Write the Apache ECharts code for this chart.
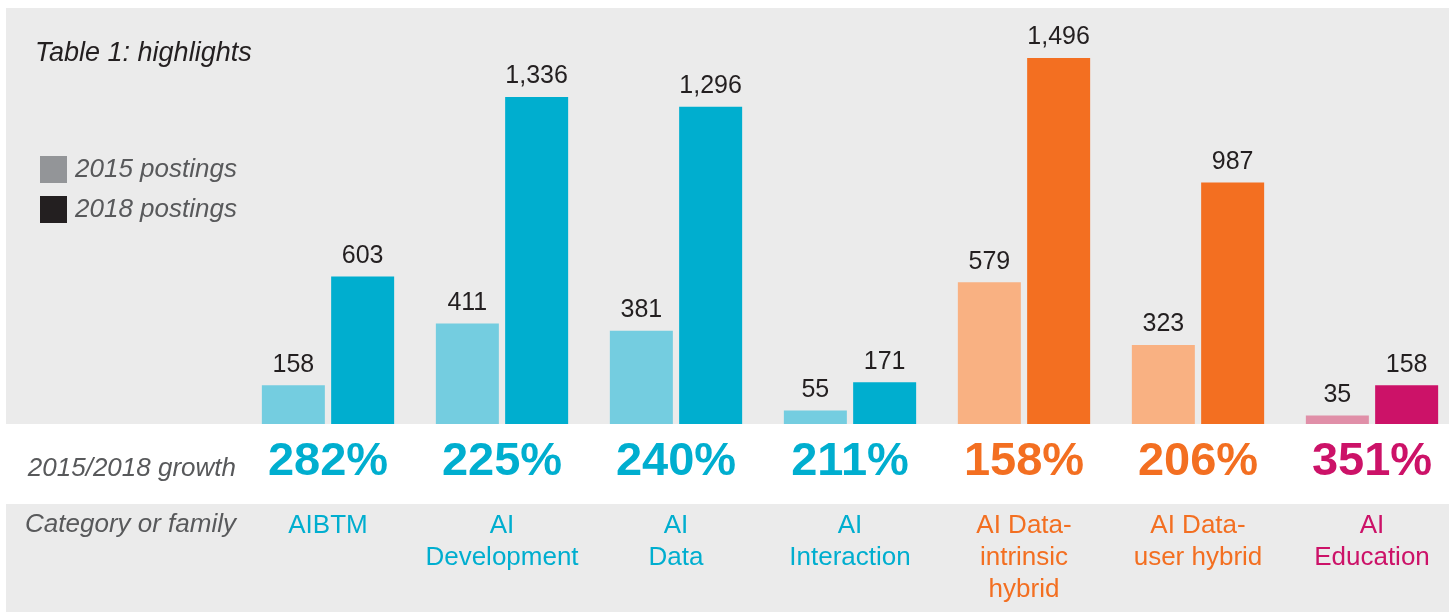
<!DOCTYPE html>
<html>
<head>
<meta charset="utf-8">
<title>Table 1: highlights</title>
<script src="https://cdn.jsdelivr.net/npm/echarts@6/dist/echarts.min.js"></script>
<style>
  html, body { margin: 0; padding: 0; background: #fff; overflow: hidden; }
  /* a little wider than the window: the last group runs past the right edge */
  #chart { width: 1460px; height: 612px; }
</style>
</head>
<body>
<div id="chart"></div>
<script>
const categories = ['AIBTM', 'AI\nDevelopment', 'AI\nData', 'AI\nInteraction', 'AI Data-\nintrinsic\nhybrid', 'AI Data-\nuser hybrid', 'AI\nEducation']
const postings2015 = [158, 411, 381, 55, 579, 323, 35]
const postings2018 = [603, 1336, 1296, 171, 1496, 987, 158]
const growthLabels = ['282%', '225%', '240%', '211%', '158%', '206%', '351%']

// colours per category: light shade for 2015, full shade for 2018
const lightColors = ['#74cde0', '#74cde0', '#74cde0', '#74cde0', '#f9b182', '#f9b182', '#e08fa8']
const darkColors = ['#00aecf', '#00aecf', '#00aecf', '#00aecf', '#f36f21', '#f36f21', '#cc1268']

const FONT = '"Liberation Sans", Arial, sans-serif'
const PANEL = '#ebebeb'

const chart = echarts.init(document.getElementById('chart'))

const valueLabel = {
  show: true,
  position: 'top',
  distance: 8,
  fontFamily: FONT,
  fontSize: 25,
  color: '#231f20',
  formatter: (p) => p.value.toLocaleString('en-US')
}

const option = {
  backgroundColor: '#fff',
  animation: false,
  textStyle: { fontFamily: FONT },
  title: {
    text: 'Table 1: highlights',
    left: 35,
    top: 40,
    padding: 0,
    textStyle: {
      fontFamily: FONT,
      fontSize: 27,
      fontStyle: 'italic',
      fontWeight: 'normal',
      color: '#231f20'
    }
  },
  legend: {
    orient: 'vertical',
    left: 40,
    top: 156,
    padding: 0,
    itemWidth: 27,
    itemHeight: 27,
    itemGap: 13,
    icon: 'rect',
    selectedMode: false,
    textStyle: {
      fontFamily: FONT,
      fontSize: 26,
      fontStyle: 'italic',
      color: '#58595b',
      padding: [2, 0, 0, 3]
    },
    data: [
      { name: '2015 postings', itemStyle: { color: '#939598' } },
      { name: '2018 postings', itemStyle: { color: '#231f20' } }
    ]
  },
  graphic: [
    { type: 'rect', z: -10, silent: true, shape: { x: 6, y: 8, width: 1460, height: 416 }, style: { fill: PANEL } },
    { type: 'rect', z: -10, silent: true, shape: { x: 6, y: 504, width: 1460, height: 108 }, style: { fill: PANEL } },
    {
      type: 'text', x: 236, y: 456,
      style: { text: '2015/2018 growth', font: 'italic 26px ' + FONT, fill: '#58595b', align: 'right', verticalAlign: 'top' }
    },
    {
      type: 'text', x: 236, y: 512,
      style: { text: 'Category or family', font: 'italic 26px ' + FONT, fill: '#58595b', align: 'right', verticalAlign: 'top' }
    }
  ],
  grid: {
    left: 241,
    top: 8,
    width: 1218,
    height: 416
  },
  xAxis: [
    {
      type: 'category',
      position: 'bottom',
      data: growthLabels,
      axisLine: { show: false },
      axisTick: { show: false },
      axisLabel: {
        interval: 0,
        margin: 13,
        fontFamily: FONT,
        fontSize: 47,
        fontWeight: 'bold',
        lineHeight: 50,
        color: (v, i) => darkColors[i]
      }
    },
    {
      type: 'category',
      position: 'bottom',
      offset: 0,
      data: categories,
      axisLine: { show: false },
      axisTick: { show: false },
      axisLabel: {
        interval: 0,
        margin: 86,
        fontFamily: FONT,
        fontSize: 26,
        lineHeight: 32,
        color: (v, i) => darkColors[i]
      }
    }
  ],
  yAxis: {
    type: 'value',
    min: 0,
    max: 1700,
    show: false,
    splitLine: { show: false }
  },
  series: [
    {
      name: '2015 postings',
      type: 'bar',
      xAxisIndex: 0,
      data: postings2015,
      barWidth: 63,
      barGap: '10%',
      itemStyle: { color: (p) => lightColors[p.dataIndex] },
      label: valueLabel
    },
    {
      name: '2018 postings',
      type: 'bar',
      xAxisIndex: 0,
      data: postings2018,
      barWidth: 63,
      barGap: '10%',
      itemStyle: { color: (p) => darkColors[p.dataIndex] },
      label: valueLabel
    }
  ]
}

chart.setOption(option)
</script>
</body>
</html>
